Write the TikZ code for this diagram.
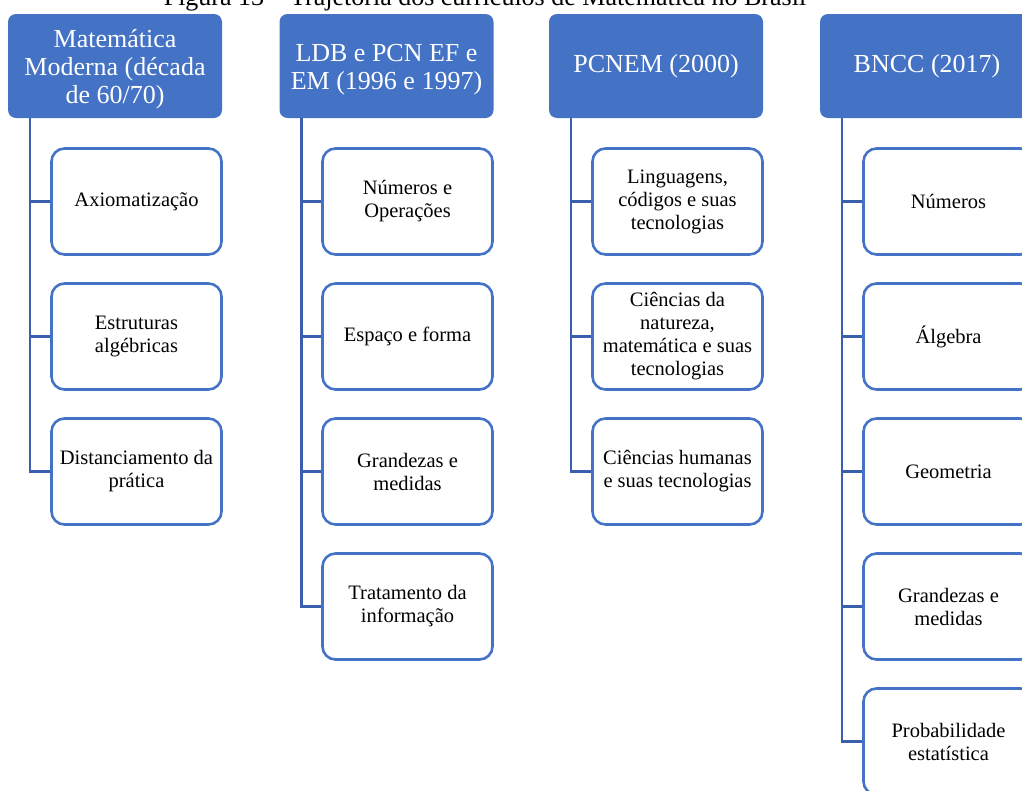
\documentclass[tikz,border=0pt]{standalone}
\usepackage{fontspec}
\setmainfont{Liberation Serif}
\definecolor{hdrblue}{HTML}{4472C4}
\definecolor{lnblue}{HTML}{3A5FAD}

\begin{document}
\begin{tikzpicture}[x=1pt,y=-1pt,
  hdr/.style={rectangle,rounded corners=8pt,fill=hdrblue,text=white,
    minimum width=214pt,minimum height=104pt,align=center,
    font=\fontsize{26}{28}\selectfont},
  item/.style={rectangle,rounded corners=13pt,draw=hdrblue,line width=2.6pt,
    fill=white,minimum width=170pt,minimum height=106pt,align=center,
    font=\fontsize{20.5}{23}\selectfont},
  link/.style={draw=lnblue,line width=2.6pt}]
  \useasboundingbox (0,0) rectangle (1022,790);
  % title (cut at the top)
  \node[anchor=base,font=\fontsize{26}{27}\selectfont] (title) at (485,5)
    {Figura 13 -- Trajetória dos currículos de Matemática no Brasil};
  % headers
  \node[hdr] (h1) at (115,66) {\rule{0pt}{24pt}Matemática\\Moderna (década\\de 60/70)};
  \node[hdr] (h2) at (386.5,66) {\rule{0pt}{24pt}LDB e PCN EF e\\EM (1996 e 1997)};
  \node[hdr] (h3) at (656,66) {PCNEM (2000)};
  \node[hdr] (h4) at (927,66) {BNCC (2017)};
  % column 1
  \node[item] (a1) at (136.5,201.5) {Axiomatização};
  \node[item] (a2) at (136.5,336.5) {Estruturas\\algébricas};
  \node[item] (a3) at (136.5,471.5) {Distanciamento da\\prática};
  % column 2
  \node[item] (b1) at (407.5,201.5) {Números e\\Operações};
  \node[item] (b2) at (407.5,336.5) {Espaço e forma};
  \node[item] (b3) at (407.5,471.5) {Grandezas e\\medidas};
  \node[item] (b4) at (407.5,606.5) {Tratamento da\\informação};
  % column 3
  \node[item] (c1) at (677.5,201.5) {Linguagens,\\códigos e suas\\tecnologias};
  \node[item] (c2) at (677.5,336.5) {Ciências da\\natureza,\\matemática e suas\\tecnologias};
  \node[item] (c3) at (677.5,471.5) {Ciências humanas\\e suas tecnologias};
  % column 4
  \node[item] (d1) at (948.5,201.5) {Números};
  \node[item] (d2) at (948.5,336.5) {Álgebra};
  \node[item] (d3) at (948.5,471.5) {Geometria};
  \node[item] (d4) at (948.5,606.5) {Grandezas e\\medidas};
  \node[item] (d5) at (948.5,741.5) {Probabilidade\\estatística};
  % connectors
  \foreach \h/\c/\n in {h1/a/3,h2/b/4,h3/c/3,h4/d/5} {
    \coordinate (\h t) at ([xshift=22pt]\h.south west);
    \draw[link] (\h t) |- (\c\n.west);
    \foreach \k in {1,...,\n} {\draw[link] (\h t |- \c\k.west) -- (\c\k.west);}
  }
\end{tikzpicture}
\end{document}
